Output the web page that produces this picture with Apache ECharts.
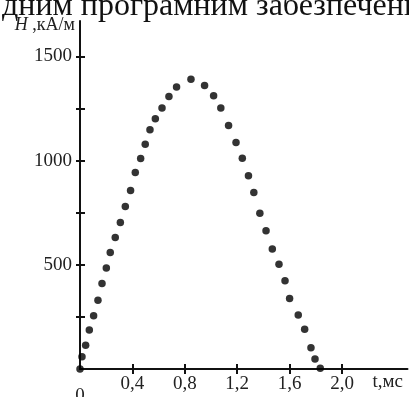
<!DOCTYPE html>
<html>
<head>
<meta charset="utf-8">
<script src="https://cdn.jsdelivr.net/npm/echarts@6/dist/echarts.min.js"></script>
<style>
html,body{margin:0;padding:0;background:#fff;}
#chart{width:409px;height:397px;}
</style>
</head>
<body>
<div id="chart"></div>
<script>
// t, ms
const tValues = [0, 0.015, 0.043, 0.071, 0.104, 0.137, 0.168, 0.201, 0.231, 0.269, 0.308, 0.346, 0.386, 0.422, 0.463, 0.498, 0.534, 0.575, 0.626, 0.679, 0.737, 0.847, 0.951, 1.020, 1.075, 1.134, 1.191, 1.239, 1.286, 1.327, 1.373, 1.420, 1.468, 1.519, 1.565, 1.600, 1.666, 1.715, 1.763, 1.794, 1.834];
// H, kA/m
const hValues = [0, 59, 114, 187, 255, 330, 410, 485, 559, 631, 703, 780, 856, 943, 1010, 1079, 1148, 1201, 1252, 1308, 1353, 1391, 1361, 1311, 1252, 1169, 1087, 1011, 927, 847, 748, 664, 576, 503, 423, 338, 259, 191, 102, 48, 3];
const xTickValues = [0.4, 0.8, 1.2, 1.6, 2.0];
const xLabelValues = [0, 0.4, 0.8, 1.2, 1.6, 2.0];
const yTickValues = [250, 500, 750, 1000, 1250, 1500];
const yLabelValues = [500, 1000, 1500];
const titleText = 'дним програмним забезпечення';
const xName = 't,мс';
const yName = '{i|H} ,кА/м';

const FONT = 'Liberation Serif';
const points = tValues.map((t, i) => [t, hValues[i]]);
const chart = echarts.init(document.getElementById('chart'), null, {renderer: 'canvas'});
const xMin = 0, xMax = 2.5, yMin = 0, yMax = 1670;
const axisCol = '#111';

chart.setOption({
  animation: false,
  backgroundColor: '#fff',
  title: {
    text: titleText,
    left: -3, top: -14,
    textStyle: {fontFamily: FONT, fontSize: 32, fontWeight: 'normal', color: '#111'}
  },
  grid: {left: 80, right: 1.5, top: 21, bottom: 28, containLabel: false, outerBoundsMode: 'none'},
  xAxis: [{
    type: 'value', min: xMin, max: xMax, position: 'bottom',
    axisLine: {show: true, onZero: false, lineStyle: {color: axisCol, width: 2}},
    axisTick: {show: true, length: 5, customValues: xTickValues, lineStyle: {color: axisCol, width: 2}},
    axisLabel: {
      show: true, margin: 6, customValues: xLabelValues, showMinLabel: true,
      fontFamily: FONT, fontSize: 19, color: '#222',
      formatter: v => v === 0 ? '{z|0}' : v.toFixed(1).replace('.', ','),
      rich: {z: {fontFamily: FONT, fontSize: 19, color: '#222', padding: [12, 0, 0, 0]}}
    },
    splitLine: {show: false},
    name: xName, nameLocation: 'end', nameGap: -35,
    nameTextStyle: {fontFamily: FONT, fontSize: 19, color: '#222', align: 'left', verticalAlign: 'top', padding: [4, 0, 0, 0]}
  }, {
    type: 'value', min: xMin, max: xMax, position: 'bottom',
    axisLine: {show: false, onZero: false},
    axisTick: {show: true, inside: true, length: 5, customValues: xTickValues, lineStyle: {color: axisCol, width: 2}},
    axisLabel: {show: false},
    splitLine: {show: false}
  }],
  yAxis: [{
    type: 'value', min: yMin, max: yMax, position: 'left',
    axisLine: {show: true, onZero: false, lineStyle: {color: axisCol, width: 2}},
    axisTick: {show: true, length: 4, customValues: yTickValues, lineStyle: {color: axisCol, width: 2}},
    axisLabel: {
      show: true, margin: 8, customValues: yLabelValues,
      fontFamily: FONT, fontSize: 19, color: '#222',
      formatter: v => String(v)
    },
    splitLine: {show: false},
    name: yName, nameLocation: 'end', nameGap: -4,
    nameTextStyle: {
      fontFamily: FONT, fontSize: 18, color: '#222', align: 'right', verticalAlign: 'middle', padding: [0, 5, 0, 0],
      rich: {i: {fontFamily: FONT, fontSize: 18, fontStyle: 'italic', color: '#222'}}
    }
  }, {
    type: 'value', min: yMin, max: yMax, position: 'left',
    axisLine: {show: false, onZero: false},
    axisTick: {show: true, inside: true, length: 5, customValues: yTickValues, lineStyle: {color: axisCol, width: 2}},
    axisLabel: {show: false},
    splitLine: {show: false}
  }],
  series: [{
    type: 'scatter',
    xAxisIndex: 0, yAxisIndex: 0,
    data: points,
    symbol: 'circle', symbolSize: 7.5,
    itemStyle: {color: '#000'},
    z: 5
  }]
});
</script>
</body>
</html>
